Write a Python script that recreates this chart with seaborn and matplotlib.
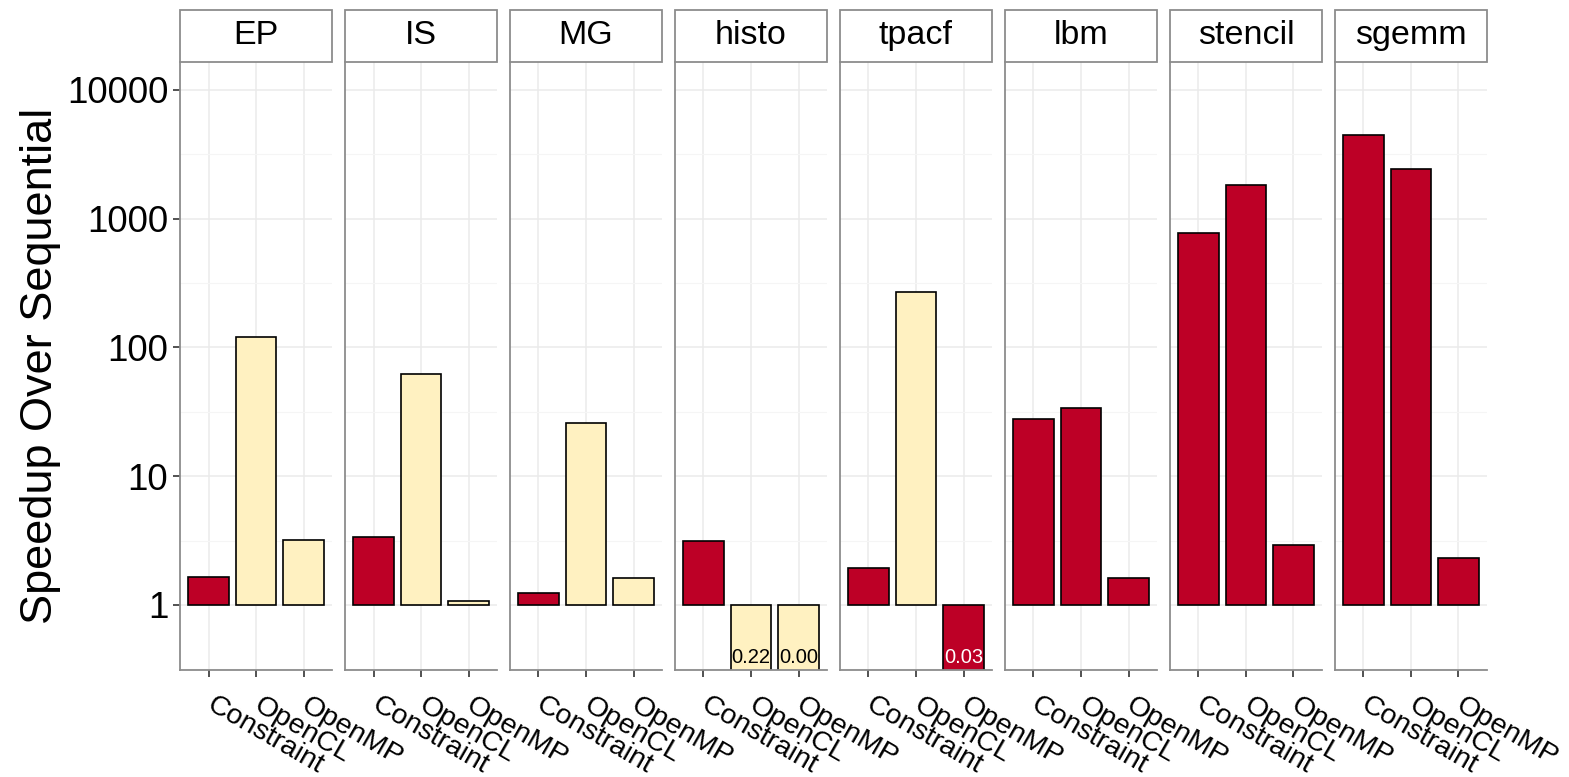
import numpy as np
import pandas as pd
import seaborn as sns
import matplotlib.pyplot as plt
from matplotlib.patches import Rectangle

# data
benchmarks = ["EP", "IS", "MG", "histo", "tpacf", "lbm", "stencil", "sgemm"]
impls = ["Constraint", "OpenCL", "OpenMP"]
speedup = {
    "EP":      [1.65, 120, 3.2],
    "IS":      [3.4, 62, 1.07],
    "MG":      [1.24, 26, 1.62],
    "histo":   [3.14, 0.22, 0.00],
    "tpacf":   [1.94, 270, 0.03],
    "lbm":     [27.8, 34, 1.62],
    "stencil": [775, 1820, 2.9],
    "sgemm":   [4500, 2440, 2.32],
}
# which bars are drawn in the light colour
group = {
    "EP":      ["hi", "lo", "lo"],
    "IS":      ["hi", "lo", "lo"],
    "MG":      ["hi", "lo", "lo"],
    "histo":   ["hi", "lo", "lo"],
    "tpacf":   ["hi", "lo", "hi"],
    "lbm":     ["hi", "hi", "hi"],
    "stencil": ["hi", "hi", "hi"],
    "sgemm":   ["hi", "hi", "hi"],
}

RED = "#BD0026"
YELLOW = "#FFF1C1"
YMIN, YMAX = -0.505, 4.217

rows = []
for b in benchmarks:
    for i, impl in enumerate(impls):
        rows.append({"bench": b, "impl": impl, "speedup": speedup[b][i], "grp": group[b][i]})
df = pd.DataFrame(rows)
# bars start at 1 on a log axis -> draw log10 values from 0
df["logv"] = np.log10(np.maximum(df["speedup"], 10 ** (YMIN - 1)))

sns.set_theme(style="whitegrid")
plt.rcParams["font.family"] = ["Liberation Sans", "DejaVu Sans"]
plt.rcParams["text.color"] = "black"
plt.rcParams["axes.labelcolor"] = "black"
plt.rcParams["xtick.color"] = "black"
plt.rcParams["ytick.color"] = "black"

g = sns.FacetGrid(df, col="bench", col_order=benchmarks, sharey=True, height=6, aspect=0.3)
g.map_dataframe(sns.barplot, x="impl", y="logv", hue="grp", order=impls,
                hue_order=["hi", "lo"], palette={"hi": RED, "lo": YELLOW},
                dodge=False, width=0.85, edgecolor="black", linewidth=1.2, saturation=1)
fig = g.figure
fig.set_size_inches(15.69, 7.77)
fig.subplots_adjust(left=180 / 1569, right=1487 / 1569, bottom=1 - 670 / 777,
                    top=1 - 62 / 777, wspace=0.0855)

strip_h = 52 / 608
for ax, b in zip(g.axes.flat, benchmarks):
    ax.set_title("")
    ax.set_xlabel("")
    ax.set_ylabel("")
    ax.set_xlim(-0.6, 2.6)
    ax.set_ylim(YMIN, YMAX)
    ax.set_yticks(range(0, 5))
    ax.set_yticklabels(["1", "10", "100", "1000", "10000"])
    ax.set_yticks([-0.5, 0.5, 1.5, 2.5, 3.5], minor=True)
    ax.grid(True, which="major", color="#EBEBEB", linewidth=1.1)
    ax.grid(True, which="minor", axis="y", color="#F5F5F5", linewidth=0.8)
    ax.set_axisbelow(True)
    for s in ax.spines.values():
        s.set_color("#8C8C8C")
        s.set_linewidth(1.3)
    ax.tick_params(axis="both", which="major", length=5, width=1.2, color="#333333",
                   labelsize=20.5, left=False, bottom=True)
    ax.tick_params(axis="y", which="minor", length=0)
    ax.tick_params(axis="x", pad=19)
    for lab in ax.get_xticklabels():
        lab.set_rotation(-30)
        lab.set_rotation_mode("anchor")
        lab.set_ha("left")
        lab.set_va("center")
    leg = ax.get_legend()
    if leg is not None:
        leg.remove()
    # strip on top
    ax.add_patch(Rectangle((0, 1), 1, strip_h, transform=ax.transAxes, clip_on=False,
                           facecolor="white", edgecolor="#8C8C8C", linewidth=1.3))
    ax.text(0.5, 1 + strip_h / 2, b, transform=ax.transAxes, ha="center", va="center",
            fontsize=24.5, color="black")
    # labels for values below 1
    sub = df[df["bench"] == b].reset_index(drop=True)
    for i, r in sub.iterrows():
        if r["speedup"] < 1:
            ax.text(i, YMIN + 0.02, f"{r['speedup']:.2f}", ha="center", va="bottom",
                    fontsize=14.5, color="white" if r["grp"] == "hi" else "black")

first = g.axes.flat[0]
first.tick_params(axis="y", which="major", left=True, labelsize=26.5, labelleft=True)
first.set_ylabel("Speedup Over Sequential", fontsize=32.5, labelpad=4)

fig.savefig("out.png", dpi=100)
